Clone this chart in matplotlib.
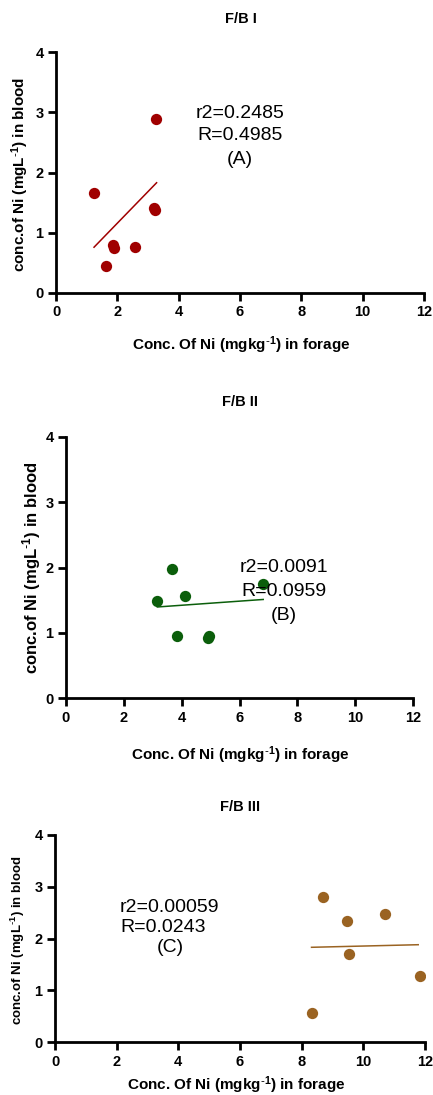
import matplotlib
matplotlib.use("Agg")
import matplotlib.pyplot as plt

plt.rcParams['font.family'] = ['Liberation Sans', 'DejaVu Sans']
plt.rcParams['mathtext.default'] = 'regular'

# ---- data ----
titles = ["F/B I", "F/B II", "F/B III"]
a_x = [1.24, 1.63, 1.85, 1.89, 2.57, 3.21, 3.24, 3.26]
a_y = [1.66, 0.45, 0.79, 0.75, 0.77, 1.41, 1.37, 2.88]
a_fit_x = [1.24, 3.28]
a_fit_y = [0.76, 1.83]

b_x = [3.16, 3.67, 3.83, 4.12, 4.90, 4.94, 6.81]
b_y = [1.48, 1.97, 0.95, 1.56, 0.92, 0.95, 1.75]
b_fit_x = [3.16, 6.82]
b_fit_y = [1.395, 1.51]

c_x = [8.32, 8.70, 9.46, 9.55, 10.70, 11.84]
c_y = [0.56, 2.80, 2.33, 1.70, 2.47, 1.27]
c_fit_x = [8.32, 11.78]
c_fit_y = [1.83, 1.88]

stats_a = ["r2=0.2485", "R=0.4985", "(A)"]
stats_b = ["r2=0.0091", "R=0.0959", "(B)"]
stats_c = ["r2=0.00059", "R=0.0243", "(C)"]

x_ticks = [0, 2, 4, 6, 8, 10, 12]
y_ticks = [0, 1, 2, 3, 4]

colors = ["#A00000", "#0B5E0B", "#9A6322"]

W, H = 433, 1095
fig = plt.figure(figsize=(W / 100, H / 100), dpi=100)

# axes boxes in pixels: left, right, bottom, top
boxes = [(56, 424, 293, 52), (66, 413, 698, 437), (55, 425, 1042, 835)]
data = [(a_x, a_y, a_fit_x, a_fit_y), (b_x, b_y, b_fit_x, b_fit_y), (c_x, c_y, c_fit_x, c_fit_y)]

ylabel = r'conc.of Ni (mgL$^{\text{-}1}$) in blood'
xlabel = r'Conc. Of Ni (mgkg$^{\text{-}1}$) in forage'

title_pos = [(241, 19), (240, 402), (240, 807)]
ylab_pos = [(20, 174), (32, 568), (18, 940)]
ylab_size = [11, 12, 9.5]
xlab_pos = [(241, 345), (240, 755), (236, 1085)]

for i, ((l, r, b, t), (xs, ys, fx, fy)) in enumerate(zip(boxes, data)):
    ax = fig.add_axes([l / W, 1 - b / H, (r - l) / W, (b - t) / H])
    ax.scatter(xs, ys, s=66, color=colors[i], zorder=3, linewidths=0)
    ax.plot(fx, fy, color=colors[i], lw=1.1, zorder=2)
    ax.set_xlim(0, 12)
    ax.set_ylim(0, 4)
    ax.set_xticks(x_ticks)
    ax.set_yticks(y_ticks)
    ax.set_xticklabels([str(v) for v in x_ticks], fontweight='bold', fontsize=10.5)
    ax.set_yticklabels([str(v) for v in y_ticks], fontweight='bold', fontsize=10.5)
    for s in ['top', 'right']:
        ax.spines[s].set_visible(False)
    for s in ['left', 'bottom']:
        ax.spines[s].set_linewidth(2)
        ax.spines[s].set_color('black')
    ax.tick_params(direction='out', length=6, width=2, pad=3)
    ax.patch.set_alpha(0)

    fig.text(title_pos[i][0] / W, 1 - title_pos[i][1] / H, titles[i],
             ha='center', va='center', fontsize=10.5, fontweight='bold')
    fig.text(ylab_pos[i][0] / W, 1 - ylab_pos[i][1] / H, ylabel, rotation=90,
             ha='center', va='center', fontsize=ylab_size[i], fontweight='bold')
    fig.text(xlab_pos[i][0] / W, 1 - xlab_pos[i][1] / H, xlabel,
             ha='center', va='center', fontsize=11, fontweight='bold')

# statistics text
def stat_lines(lines, xs, ys, has):
    for s, x, y, ha in zip(lines, xs, ys, has):
        fig.text(x / W, 1 - y / H, s, ha=ha, va='center', fontsize=14)

stat_lines(stats_a, [240, 240, 240], [113, 135, 159], ['center'] * 3)
stat_lines(stats_b, [284, 284, 284], [567, 591, 616], ['center'] * 3)
stat_lines(stats_c, [120, 120, 170], [907, 927, 947], ['left', 'left', 'center'])

fig.savefig("out.png", dpi=100)
